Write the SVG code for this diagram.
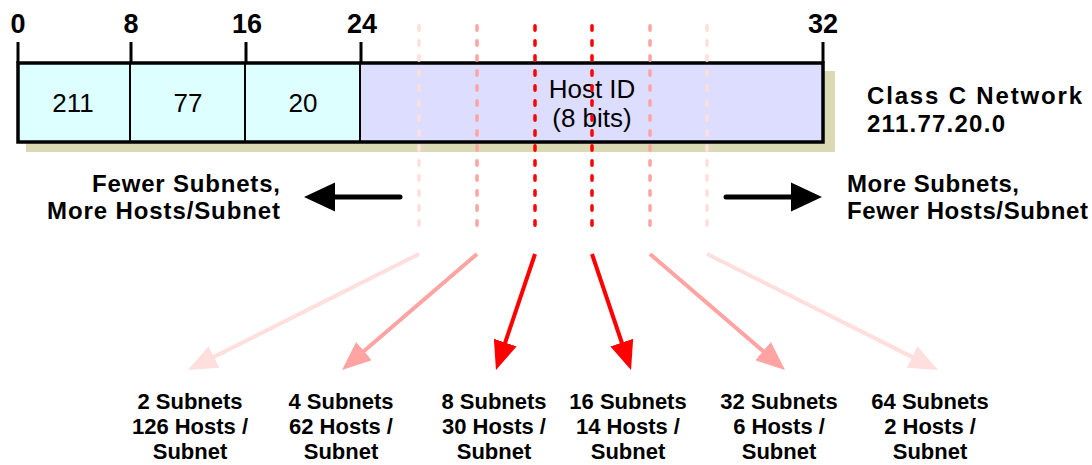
<svg xmlns="http://www.w3.org/2000/svg" width="1092" height="465" viewBox="0 0 1092 465">
  <style>
    text { font-family: "Liberation Sans", Arial, sans-serif; fill: #000; }
    .b { font-weight: bold; }
    .num { font-size: 27px; font-weight: bold; text-anchor: middle; }
    .cell { font-size: 26px; text-anchor: middle; }
    .side { font-size: 24px; font-weight: bold; }
    .lbl { font-size: 22px; font-weight: bold; text-anchor: middle; }
    .tick { stroke: #000; stroke-width: 3; }
    .dash { fill: none; stroke-width: 3.5; stroke-linecap: round; stroke-dasharray: 4.5 10.5; }
    .c1 { stroke: #FFDEDE; }
    .c2 { stroke: #FFA3A3; }
    .c3 { stroke: #FF0000; }
    .arr { fill: none; stroke-width: 4; }
    .blk { fill: none; stroke: #000; stroke-width: 5; stroke-linecap: round; }
  </style>
  <defs>
    <marker id="ah1" markerUnits="userSpaceOnUse" markerWidth="30" markerHeight="24" viewBox="0 0 30 24" refX="1" refY="12" orient="auto">
      <path d="M0,0 L29,12 L0,24 z" fill="#FFDEDE"/>
    </marker>
    <marker id="ah2" markerUnits="userSpaceOnUse" markerWidth="30" markerHeight="24" viewBox="0 0 30 24" refX="1" refY="12" orient="auto">
      <path d="M0,0 L29,12 L0,24 z" fill="#FFA3A3"/>
    </marker>
    <marker id="ah3" markerUnits="userSpaceOnUse" markerWidth="30" markerHeight="24" viewBox="0 0 30 24" refX="1" refY="12" orient="auto">
      <path d="M0,0 L29,12 L0,24 z" fill="#FF0000"/>
    </marker>
    <marker id="ahb" markerUnits="userSpaceOnUse" markerWidth="31" markerHeight="30" viewBox="0 0 31 30" refX="1" refY="15" orient="auto">
      <path d="M0,0.5 L31,15 L0,29.5 z" fill="#000"/>
    </marker>
  </defs>

  <!-- Address bit field -->
  <g id="address-field">
    <rect x="26" y="71" width="809" height="81" fill="#D9D9B3"/>
    <rect x="18" y="63" width="342" height="79" fill="#DDFFFF"/>
    <rect x="360" y="63" width="463" height="79" fill="#DDDDFF"/>
    <line x1="130" y1="63" x2="130" y2="142" stroke="#000" stroke-width="2"/>
    <line x1="245" y1="63" x2="245" y2="142" stroke="#000" stroke-width="2"/>
    <line x1="360" y1="63" x2="360" y2="142" stroke="#000" stroke-width="2"/>
    <rect x="18" y="63" width="805" height="79" fill="none" stroke="#000" stroke-width="3.5"/>
    <text class="cell" x="73" y="112">211</text>
    <text class="cell" x="188" y="112">77</text>
    <text class="cell" x="303" y="112">20</text>
    <text class="cell" x="592" y="98">Host ID</text>
    <text class="cell" x="592" y="127">(8 bits)</text>
  </g>

  <!-- Bit position scale -->
  <g id="bit-scale">
    <line class="tick" x1="18" y1="42" x2="18" y2="63"/>
    <line class="tick" x1="131" y1="42" x2="131" y2="63"/>
    <line class="tick" x1="246" y1="42" x2="246" y2="63"/>
    <line class="tick" x1="361" y1="42" x2="361" y2="63"/>
    <line class="tick" x1="823" y1="42" x2="823" y2="63"/>
    <text class="num" x="18" y="33">0</text>
    <text class="num" x="131" y="33">8</text>
    <text class="num" x="247" y="33">16</text>
    <text class="num" x="362" y="33">24</text>
    <text class="num" x="823" y="33">32</text>
  </g>

  <!-- Network label -->
  <g id="network-label">
    <text class="b" x="867" y="104" font-size="24" textLength="215" lengthAdjust="spacing">Class C Network</text>
    <text class="b" x="867" y="132" font-size="24" textLength="138" lengthAdjust="spacing">211.77.20.0</text>
  </g>

  <!-- Subnet boundary dashed lines -->
  <g id="boundaries">
    <line class="dash c1" x1="419" y1="25.75" x2="419" y2="228"/>
    <line class="dash c2" x1="477" y1="25.75" x2="477" y2="228"/>
    <line class="dash c3" x1="535" y1="25.75" x2="535" y2="228"/>
    <line class="dash c3" x1="592" y1="25.75" x2="592" y2="228"/>
    <line class="dash c2" x1="650" y1="25.75" x2="650" y2="228"/>
    <line class="dash c1" x1="707" y1="25.75" x2="707" y2="228"/>
  </g>

  <!-- Direction texts -->
  <g id="fewer-subnets">
    <text class="side" x="280" y="192" text-anchor="end" textLength="188" lengthAdjust="spacing">Fewer Subnets,</text>
    <text class="side" x="280" y="219" text-anchor="end" textLength="233" lengthAdjust="spacing">More Hosts/Subnet</text>
  </g>
  <g id="more-subnets">
    <text class="side" x="847" y="192" textLength="172" lengthAdjust="spacing">More Subnets,</text>
    <text class="side" x="847" y="219" textLength="241" lengthAdjust="spacing">Fewer Hosts/Subnet</text>
  </g>

  <!-- Connectors -->
  <g id="connectors">
    <line class="blk" x1="400" y1="197" x2="334" y2="197" marker-end="url(#ahb)"/>
    <line class="blk" x1="726" y1="197" x2="792" y2="197" marker-end="url(#ahb)"/>
    <line class="arr c1" x1="419" y1="254" x2="213.0" y2="357.4" marker-end="url(#ah1)"/>
    <line class="arr c2" x1="477" y1="254" x2="363.2" y2="351.8" marker-end="url(#ah2)"/>
    <line class="arr c3" x1="535" y1="254" x2="504.9" y2="343.5" marker-end="url(#ah3)"/>
    <line class="arr c3" x1="592" y1="254" x2="622.1" y2="343.5" marker-end="url(#ah3)"/>
    <line class="arr c2" x1="650" y1="254" x2="763.8" y2="351.8" marker-end="url(#ah2)"/>
    <line class="arr c1" x1="707" y1="254" x2="913.0" y2="357.4" marker-end="url(#ah1)"/>
  </g>

  <!-- Result labels -->
  <g id="result-2">
    <text class="lbl" x="190" y="409">2 Subnets</text>
    <text class="lbl" x="190" y="434">126 Hosts /</text>
    <text class="lbl" x="190" y="459">Subnet</text>
  </g>
  <g id="result-4">
    <text class="lbl" x="341" y="409">4 Subnets</text>
    <text class="lbl" x="341" y="434">62 Hosts /</text>
    <text class="lbl" x="341" y="459">Subnet</text>
  </g>
  <g id="result-8">
    <text class="lbl" x="494" y="409">8 Subnets</text>
    <text class="lbl" x="494" y="434">30 Hosts /</text>
    <text class="lbl" x="494" y="459">Subnet</text>
  </g>
  <g id="result-16">
    <text class="lbl" x="628" y="409">16 Subnets</text>
    <text class="lbl" x="628" y="434">14 Hosts /</text>
    <text class="lbl" x="628" y="459">Subnet</text>
  </g>
  <g id="result-32">
    <text class="lbl" x="779" y="409">32 Subnets</text>
    <text class="lbl" x="779" y="434">6 Hosts /</text>
    <text class="lbl" x="779" y="459">Subnet</text>
  </g>
  <g id="result-64">
    <text class="lbl" x="930" y="409">64 Subnets</text>
    <text class="lbl" x="930" y="434">2 Hosts /</text>
    <text class="lbl" x="930" y="459">Subnet</text>
  </g>
</svg>
